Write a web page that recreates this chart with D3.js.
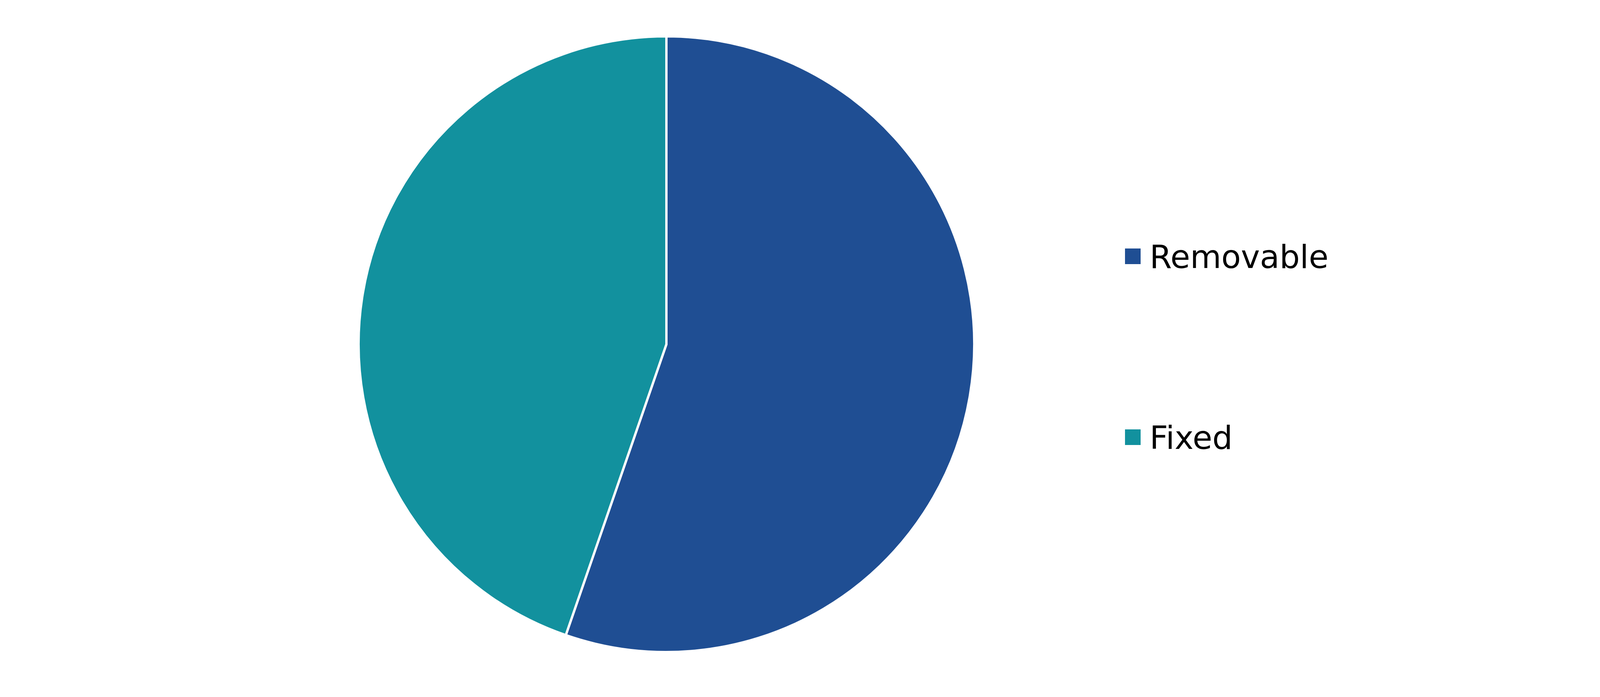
<!DOCTYPE html>
<html><head><meta charset="utf-8">
<script src="https://cdn.jsdelivr.net/npm/d3@7"></script>
<style>html,body{margin:0;padding:0;background:#fff;}</style>
</head><body>
<svg id="chart" width="4501" height="1784"></svg>
<script>
const categories = ["Removable", "Fixed"];
const values = [55.3, 44.7];
const colors = ["#1f4e93", "#12919e"];

const svg = d3.select("#chart");
const cx = 1706, cy = 881, r = 788;
const data = categories.map((c, i) => ({name: c, value: values[i], color: colors[i]}));
const pie = d3.pie().value(d => d.value).sort(null);
const arc = d3.arc().innerRadius(0).outerRadius(r);
const g = svg.append("g").attr("transform", `translate(${cx},${cy})`);
g.selectAll("path").data(pie(data)).join("path")
  .attr("d", arc).attr("fill", d => d.data.color)
  .attr("stroke", "#fff").attr("stroke-width", 6).attr("stroke-linejoin", "round");

const legend = svg.append("g").attr("transform", "translate(2880,636)");
const rowGap = 463;
const items = legend.selectAll("g").data(data).join("g")
  .attr("transform", (d, i) => `translate(0,${i * rowGap})`);
items.append("rect").attr("width", 40).attr("height", 40).attr("fill", d => d.color);
items.append("text").attr("x", 63).attr("y", 50)
  .attr("font-family", "'DejaVu Sans', sans-serif")
  .attr("font-size", 82).attr("fill", "#000").text(d => d.name);
</script>
</body></html>
